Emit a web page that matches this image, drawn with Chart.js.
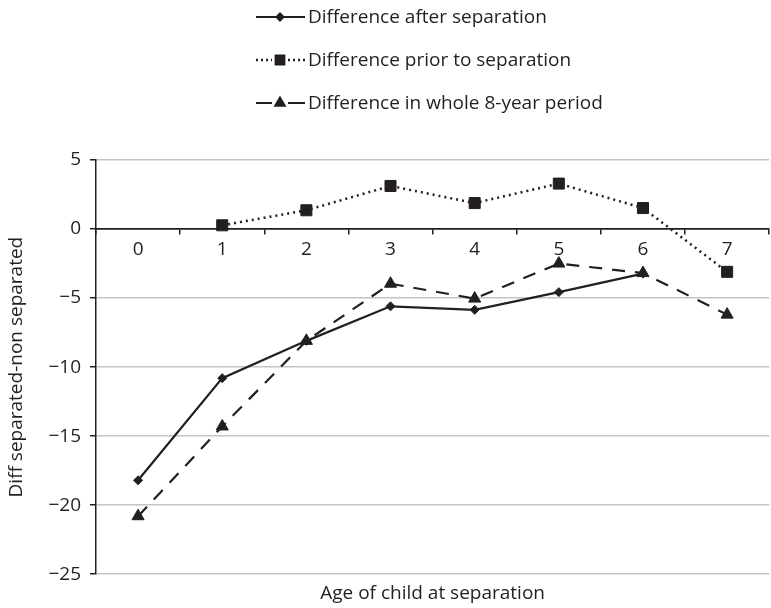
<!DOCTYPE html>
<html>
<head>
<meta charset="utf-8">
<script src="https://cdn.jsdelivr.net/npm/chart.js@4.4.1/dist/chart.umd.min.js"></script>
<style>
  html, body { margin:0; padding:0; background:#fff; overflow:hidden; }
  #wrap { width:778px; height:608px; }
</style>
</head>
<body>
<div id="wrap"><canvas id="ch" width="778" height="608"></canvas></div>
<script>
// ── data ────────────────────────────────────────────────────────────────
const AGES    = ['0','1','2','3','4','5','6','7'];
const AFTER   = [-18.2, -10.8, -8.1, -5.6, -5.85, -4.57, -3.23, null];
const PRIOR   = [null, 0.27, 1.36, 3.12, 1.88, 3.29, 1.52, -3.1];
const WHOLE   = [-20.8, -14.3, -8.1, -3.96, -5.04, -2.5, -3.19, -6.2];
const Y_TICKS = [5, 0, -5, -10, -15, -20, -25];
const LEGEND  = ['Difference after separation', 'Difference prior to separation', 'Difference in whole 8-year period'];

const INK  = '#231f20';
const GRID = '#c4c4c4';
const FAM  = "'Open Sans', 'DejaVu Sans', sans-serif";
const FS   = 19;

const minus = v => v < 0 ? '\u2212' + Math.abs(v) : String(v);

// legend drawn as three stacked rows above the plot
const legendRows = {
  id: 'legendRows',
  afterDraw(chart) {
    const ctx = chart.ctx;
    ctx.save();
    chart.data.datasets.forEach((ds, i) => {
      const y = 17 + i * 43, x0 = 256, x1 = 305, xm = 280;
      ctx.strokeStyle = INK; ctx.fillStyle = INK;
      ctx.lineWidth = ds.borderWidth;
      ctx.lineCap = 'butt';
      if (i === 0) {
        ctx.setLineDash([]);
        ctx.beginPath(); ctx.moveTo(x0, y); ctx.lineTo(x1, y); ctx.stroke();
      } else {
        ctx.setLineDash(i === 1 ? [2, 3] : []);
        ctx.beginPath();
        ctx.moveTo(x0, y); ctx.lineTo(xm - 8, y);
        ctx.moveTo(xm + 8, y); ctx.lineTo(x1, y);
        ctx.stroke();
      }
      ctx.setLineDash([]);
      Chart.helpers.drawPoint(ctx, { pointStyle: ds.pointStyle, radius: ds.pointRadius * 0.75, borderWidth: 1 }, xm, y);
      ctx.font = FS + 'px ' + FAM;
      ctx.textBaseline = 'middle';
      ctx.fillText(ds.label, 308, y + 1);
    });
    ctx.restore();
  }
};

new Chart(document.getElementById('ch'), {
  type: 'line',
  data: {
    labels: AGES,
    datasets: [
      { label: LEGEND[0], data: AFTER, borderColor: INK, backgroundColor: INK,
        borderWidth: 2.2, pointStyle: 'rectRot', pointRadius: 4.5, pointBorderWidth: 1, tension: 0 },
      { label: LEGEND[1], data: PRIOR, borderColor: INK, backgroundColor: INK,
        borderWidth: 2.5, borderDash: [2, 4], pointStyle: 'rect', pointRadius: 7.8, pointBorderWidth: 1, tension: 0 },
      { label: LEGEND[2], data: WHOLE, borderColor: INK, backgroundColor: INK,
        borderWidth: 2.2, borderDash: [13, 10], pointStyle: 'triangle', pointRadius: 7, pointBorderWidth: 1, tension: 0 },
    ]
  },
  options: {
    responsive: false, animation: false,
    layout: { padding: { top: 160, right: 1, left: 0, bottom: 3 } },
    plugins: { legend: { display: false }, tooltip: { enabled: false } },
    scales: {
      x: {
        position: { y: 0 }, offset: true,
        grid: { drawOnChartArea: false, offset: true, tickLength: 5, tickColor: INK, lineWidth: 1.5 },
        border: { color: INK, width: 1.5 },
        ticks: { color: INK, font: { family: FAM, size: FS }, padding: 4 }
      },
      x2: {
        type: 'category', labels: AGES, position: 'bottom', offset: true,
        grid: { display: false }, border: { display: false }, ticks: { display: false },
        title: { display: true, text: 'Age of child at separation', color: INK,
                 font: { family: FAM, size: FS }, padding: { top: 0, bottom: 0 } }
      },
      y: {
        min: -25, max: 5,
        afterBuildTicks: s => { s.ticks = Y_TICKS.map(v => ({ value: v })); },
        afterFit: s => { s.width = 96; },
        grid: { color: c => c.tick && c.tick.value === 0 ? INK : GRID, lineWidth: 1.5, tickColor: INK, tickLength: 6 },
        border: { color: INK, width: 1.5 },
        ticks: { color: INK, font: { family: FAM, size: FS }, padding: 9, callback: v => minus(v) },
        title: { display: true, text: 'Diff separated-non separated', color: INK,
                 font: { family: FAM, size: FS }, padding: { top: 5, bottom: 0 } }
      }
    }
  },
  plugins: [legendRows]
});
</script>
</body>
</html>
